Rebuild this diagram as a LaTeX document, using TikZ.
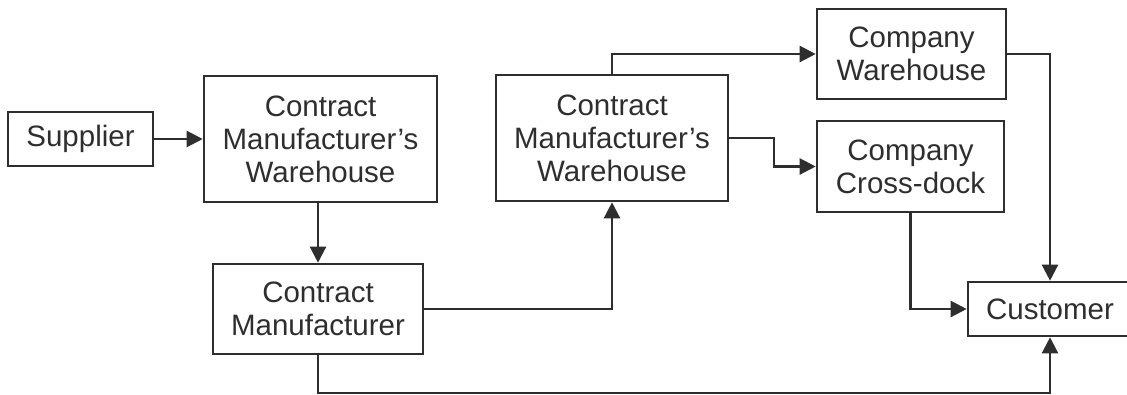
\documentclass[tikz,border=0pt]{standalone}
\usepackage{fontspec}
\setmainfont{Liberation Sans}
\usetikzlibrary{arrows.meta}
\definecolor{ink}{HTML}{2E2E2E}
\begin{document}
\begin{tikzpicture}[x=1pt,y=-1pt,
  box/.style={draw=ink,line width=2.6pt,rectangle,align=center,text=ink,
    font=\fontsize{29.5}{33}\selectfont,inner sep=0pt},
  conn/.style={draw=ink,line width=2.3pt,-{Triangle[length=16pt,width=16pt]}},
  plain/.style={draw=ink,line width=2.3pt}]
\useasboundingbox (0,0) rectangle (1127,394);
\node[box,minimum width=145pt,minimum height=54pt] (sup) at (80.5,139) {Supplier};
\node[box,minimum width=233pt,minimum height=126pt] (cmw1) at (320.5,139) {Contract\\Manufacturer’s\\Warehouse};
\node[box,minimum width=210pt,minimum height=90pt] (cm) at (318,309) {Contract\\Manufacturer};
\node[box,minimum width=232pt,minimum height=126pt] (cmw2) at (612,138) {Contract\\Manufacturer’s\\Warehouse};
\node[box,minimum width=189pt,minimum height=90pt] (cwh) at (911.5,54) {Company\\Warehouse};
\node[box,minimum width=187pt,minimum height=91pt] (ccd) at (910.5,166.5) {Company\\Cross-dock};
\node[box,minimum width=164pt,minimum height=54pt] (cust) at (1050,309) {Customer};
\draw[conn] (sup.east) -- (cmw1.west);
\draw[conn] (cm.north |- cmw1.south) -- (cm.north);
\draw[conn] (cm.east) -| (cmw2.south);
\draw[conn] (cmw2.north) |- (cwh.west);
\draw[conn] (cmw2.east) -- ++(45,0) |- (ccd.west);
\draw[conn] (cwh.east) -| (cust.north);
\draw[conn] (ccd.south) |- (cust.west);
\draw[conn] (cm.south) -- ++(0,38) -| (cust.south);
\end{tikzpicture}
\end{document}
